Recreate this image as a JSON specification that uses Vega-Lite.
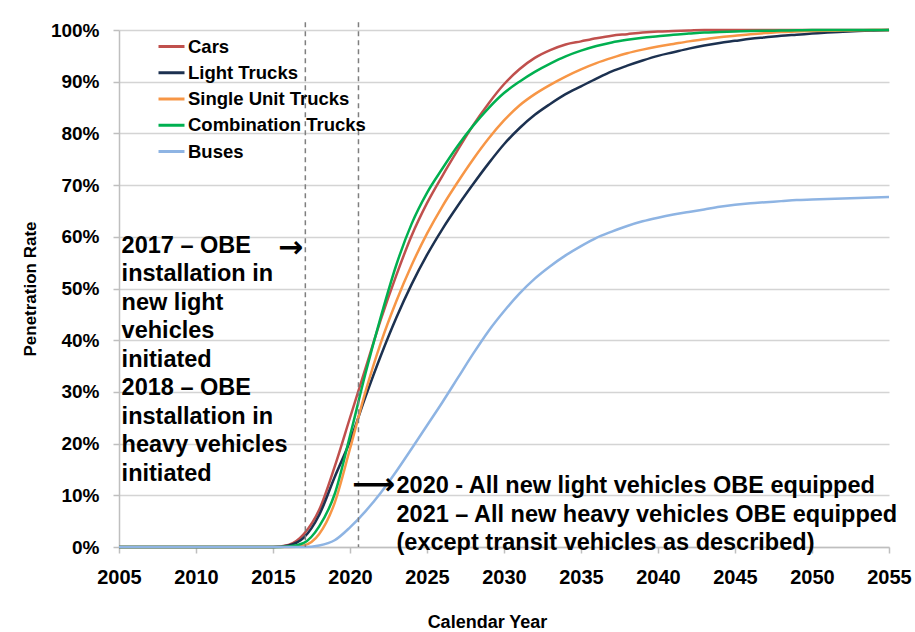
{
  "$schema": "https://vega.github.io/schema/vega-lite/v6.json",
  "width": 770,
  "height": 517,
  "autosize": "none",
  "padding": {"left": 119, "top": 30, "right": 26, "bottom": 85},
  "background": "white",
  "config": {"view": {"stroke": null}, "font": "Liberation Sans"},
  "datasets": {
    "series": [
      {"year": 2005, "Cars": 0, "Light Trucks": 0, "Single Unit Trucks": 0, "Combination Trucks": 0, "Buses": 0},
      {"year": 2006, "Cars": 0, "Light Trucks": 0, "Single Unit Trucks": 0, "Combination Trucks": 0, "Buses": 0},
      {"year": 2007, "Cars": 0, "Light Trucks": 0, "Single Unit Trucks": 0, "Combination Trucks": 0, "Buses": 0},
      {"year": 2008, "Cars": 0, "Light Trucks": 0, "Single Unit Trucks": 0, "Combination Trucks": 0, "Buses": 0},
      {"year": 2009, "Cars": 0, "Light Trucks": 0, "Single Unit Trucks": 0, "Combination Trucks": 0, "Buses": 0},
      {"year": 2010, "Cars": 0, "Light Trucks": 0, "Single Unit Trucks": 0, "Combination Trucks": 0, "Buses": 0},
      {"year": 2011, "Cars": 0, "Light Trucks": 0, "Single Unit Trucks": 0, "Combination Trucks": 0, "Buses": 0},
      {"year": 2012, "Cars": 0, "Light Trucks": 0, "Single Unit Trucks": 0, "Combination Trucks": 0, "Buses": 0},
      {"year": 2013, "Cars": 0, "Light Trucks": 0, "Single Unit Trucks": 0, "Combination Trucks": 0, "Buses": 0},
      {"year": 2014, "Cars": 0, "Light Trucks": 0, "Single Unit Trucks": 0, "Combination Trucks": 0, "Buses": 0},
      {"year": 2015, "Cars": 0, "Light Trucks": 0, "Single Unit Trucks": 0, "Combination Trucks": 0, "Buses": 0},
      {"year": 2016, "Cars": 0.4, "Light Trucks": 0.3, "Single Unit Trucks": 0, "Combination Trucks": 0.1, "Buses": 0},
      {"year": 2017, "Cars": 2.5, "Light Trucks": 1.8, "Single Unit Trucks": 0.3, "Combination Trucks": 0.8, "Buses": 0},
      {"year": 2018, "Cars": 7.2, "Light Trucks": 6.2, "Single Unit Trucks": 2.5, "Combination Trucks": 4.0, "Buses": 0.3},
      {"year": 2019, "Cars": 15.5, "Light Trucks": 13.5, "Single Unit Trucks": 8.5, "Combination Trucks": 10.2, "Buses": 1.3},
      {"year": 2020, "Cars": 25, "Light Trucks": 20.5, "Single Unit Trucks": 19, "Combination Trucks": 21.5, "Buses": 3.8},
      {"year": 2021, "Cars": 34.5, "Light Trucks": 29, "Single Unit Trucks": 30, "Combination Trucks": 33.5, "Buses": 6.9},
      {"year": 2022, "Cars": 44, "Light Trucks": 37, "Single Unit Trucks": 39.5, "Combination Trucks": 44.5, "Buses": 10.5},
      {"year": 2023, "Cars": 52.5, "Light Trucks": 44.3, "Single Unit Trucks": 47.5, "Combination Trucks": 54.5, "Buses": 14.6},
      {"year": 2024, "Cars": 60.2, "Light Trucks": 50.8, "Single Unit Trucks": 54.5, "Combination Trucks": 62.5, "Buses": 19},
      {"year": 2025, "Cars": 66.5, "Light Trucks": 56.5, "Single Unit Trucks": 60.6, "Combination Trucks": 68.5, "Buses": 23.5},
      {"year": 2026, "Cars": 71.8, "Light Trucks": 61.5, "Single Unit Trucks": 65.9, "Combination Trucks": 73.2, "Buses": 28},
      {"year": 2027, "Cars": 76.8, "Light Trucks": 66, "Single Unit Trucks": 70.6, "Combination Trucks": 77.6, "Buses": 32.7},
      {"year": 2028, "Cars": 81.6, "Light Trucks": 70.2, "Single Unit Trucks": 75, "Combination Trucks": 81.5, "Buses": 37.4},
      {"year": 2029, "Cars": 85.8, "Light Trucks": 74.2, "Single Unit Trucks": 79, "Combination Trucks": 84.9, "Buses": 41.8},
      {"year": 2030, "Cars": 89.5, "Light Trucks": 77.9, "Single Unit Trucks": 82.5, "Combination Trucks": 87.8, "Buses": 45.6},
      {"year": 2031, "Cars": 92.4, "Light Trucks": 81, "Single Unit Trucks": 85.4, "Combination Trucks": 90, "Buses": 49},
      {"year": 2032, "Cars": 94.6, "Light Trucks": 83.6, "Single Unit Trucks": 87.6, "Combination Trucks": 91.9, "Buses": 51.9},
      {"year": 2033, "Cars": 96.1, "Light Trucks": 85.7, "Single Unit Trucks": 89.4, "Combination Trucks": 93.5, "Buses": 54.3},
      {"year": 2034, "Cars": 97.2, "Light Trucks": 87.6, "Single Unit Trucks": 91, "Combination Trucks": 94.9, "Buses": 56.4},
      {"year": 2035, "Cars": 97.8, "Light Trucks": 89.1, "Single Unit Trucks": 92.4, "Combination Trucks": 96, "Buses": 58.2},
      {"year": 2036, "Cars": 98.4, "Light Trucks": 90.6, "Single Unit Trucks": 93.6, "Combination Trucks": 96.9, "Buses": 59.8},
      {"year": 2037, "Cars": 98.9, "Light Trucks": 92, "Single Unit Trucks": 94.6, "Combination Trucks": 97.6, "Buses": 61},
      {"year": 2038, "Cars": 99.2, "Light Trucks": 93.1, "Single Unit Trucks": 95.5, "Combination Trucks": 98.1, "Buses": 62.1},
      {"year": 2039, "Cars": 99.5, "Light Trucks": 94.1, "Single Unit Trucks": 96.2, "Combination Trucks": 98.5, "Buses": 63},
      {"year": 2040, "Cars": 99.7, "Light Trucks": 95, "Single Unit Trucks": 96.8, "Combination Trucks": 98.8, "Buses": 63.7},
      {"year": 2041, "Cars": 99.8, "Light Trucks": 95.7, "Single Unit Trucks": 97.3, "Combination Trucks": 99.1, "Buses": 64.3},
      {"year": 2042, "Cars": 99.9, "Light Trucks": 96.4, "Single Unit Trucks": 97.8, "Combination Trucks": 99.3, "Buses": 64.8},
      {"year": 2043, "Cars": 100, "Light Trucks": 97, "Single Unit Trucks": 98.2, "Combination Trucks": 99.5, "Buses": 65.3},
      {"year": 2044, "Cars": 100, "Light Trucks": 97.5, "Single Unit Trucks": 98.6, "Combination Trucks": 99.6, "Buses": 65.8},
      {"year": 2045, "Cars": 100, "Light Trucks": 97.9, "Single Unit Trucks": 98.9, "Combination Trucks": 99.7, "Buses": 66.2},
      {"year": 2046, "Cars": 100, "Light Trucks": 98.3, "Single Unit Trucks": 99.2, "Combination Trucks": 99.8, "Buses": 66.5},
      {"year": 2047, "Cars": 100, "Light Trucks": 98.6, "Single Unit Trucks": 99.4, "Combination Trucks": 99.85, "Buses": 66.7},
      {"year": 2048, "Cars": 100, "Light Trucks": 98.9, "Single Unit Trucks": 99.6, "Combination Trucks": 99.9, "Buses": 66.9},
      {"year": 2049, "Cars": 100, "Light Trucks": 99.1, "Single Unit Trucks": 99.7, "Combination Trucks": 99.95, "Buses": 67.1},
      {"year": 2050, "Cars": 100, "Light Trucks": 99.3, "Single Unit Trucks": 99.8, "Combination Trucks": 100, "Buses": 67.2},
      {"year": 2051, "Cars": 100, "Light Trucks": 99.5, "Single Unit Trucks": 99.85, "Combination Trucks": 100, "Buses": 67.3},
      {"year": 2052, "Cars": 100, "Light Trucks": 99.65, "Single Unit Trucks": 99.9, "Combination Trucks": 100, "Buses": 67.4},
      {"year": 2053, "Cars": 100, "Light Trucks": 99.8, "Single Unit Trucks": 99.95, "Combination Trucks": 100, "Buses": 67.5},
      {"year": 2054, "Cars": 100, "Light Trucks": 99.9, "Single Unit Trucks": 100, "Combination Trucks": 100, "Buses": 67.6},
      {"year": 2055, "Cars": 100, "Light Trucks": 100, "Single Unit Trucks": 100, "Combination Trucks": 100, "Buses": 67.7}
    ]
  },
  "layer": [
    {
      "data": {"name": "series"},
      "transform": [
        {"fold": ["Cars", "Light Trucks", "Single Unit Trucks", "Combination Trucks", "Buses"], "as": ["type", "rate"]}
      ],
      "mark": {"type": "line", "interpolate": "monotone", "strokeWidth": 2.5},
      "encoding": {
        "x": {
          "field": "year",
          "type": "quantitative",
          "scale": {"domain": [2005, 2055], "nice": false, "zero": false},
          "axis": {
            "values": [2005, 2010, 2015, 2020, 2025, 2030, 2035, 2040, 2045, 2050, 2055],
            "format": "d",
            "grid": false,
            "labelFlush": false,
            "domainColor": "#BFBFBF",
            "domainWidth": 1.5,
            "tickColor": "#BFBFBF",
            "tickWidth": 1.5,
            "tickSize": 6,
            "labelFont": "Liberation Sans",
            "labelFontWeight": "bold",
            "labelFontSize": 20,
            "labelColor": "#000000",
            "labelPadding": 14,
            "title": "Calendar Year",
            "titleFont": "Liberation Sans",
            "titleFontWeight": "bold",
            "titleFontSize": 18,
            "titleColor": "#000000",
            "titlePadding": 26,
            "titleX": 368
          }
        },
        "y": {
          "field": "rate",
          "type": "quantitative",
          "scale": {"domain": [0, 100], "nice": false},
          "axis": {
            "values": [0, 10, 20, 30, 40, 50, 60, 70, 80, 90, 100],
            "labelExpr": "datum.value + '%'",
            "grid": true,
            "labelFlush": false,
            "gridColor": "#D4D4D4",
            "gridWidth": 1.5,
            "domainColor": "#BFBFBF",
            "domainWidth": 1.5,
            "tickColor": "#BFBFBF",
            "tickWidth": 1.5,
            "tickSize": 6,
            "labelFont": "Liberation Sans",
            "labelFontWeight": "bold",
            "labelFontSize": 19,
            "labelColor": "#000000",
            "labelPadding": 14,
            "title": "Penetration Rate",
            "titleFont": "Liberation Sans",
            "titleFontWeight": "bold",
            "titleFontSize": 17,
            "titleColor": "#000000",
            "titlePadding": 11
          }
        },
        "color": {
          "field": "type",
          "type": "nominal",
          "sort": ["Cars", "Light Trucks", "Single Unit Trucks", "Combination Trucks", "Buses"],
          "scale": {
            "domain": ["Cars", "Light Trucks", "Single Unit Trucks", "Combination Trucks", "Buses"],
            "range": ["#C0504D", "#1C3150", "#F79646", "#00B050", "#8EB4E3"]
          },
          "legend": {
            "orient": "none",
            "legendX": 38,
            "legendY": 2,
            "title": null,
            "symbolType": "stroke",
            "symbolSize": 676,
            "symbolStrokeWidth": 3,
            "labelFont": "Liberation Sans",
            "labelFontWeight": "bold",
            "labelFontSize": 18.5,
            "labelColor": "#000000",
            "labelLimit": 400,
            "labelOffset": 2,
            "rowPadding": 2.25,
            "padding": 0
          }
        }
      }
    },
    {
      "data": {"values": [{"year": 2017.1, "top": 101.5, "bottom": 0}, {"year": 2020.55, "top": 101.5, "bottom": 0}]},
      "mark": {"type": "rule", "strokeDash": [5, 4], "stroke": "#7F7F7F", "strokeWidth": 1.5},
      "encoding": {
        "x": {"field": "year", "type": "quantitative"},
        "y": {"field": "top", "type": "quantitative"},
        "y2": {"field": "bottom"}
      }
    },
    {
      "data": {"values": [
        {"year": 2005.17, "rate": 56.9, "label": ["2017 – OBE", "installation in", "new light", "vehicles", "initiated", "2018 – OBE", "installation in", "heavy vehicles", "initiated"]}
      ]},
      "mark": {"type": "text", "align": "left", "baseline": "alphabetic", "font": "Liberation Sans", "fontWeight": "bold", "fontSize": 23.5, "lineHeight": 28.5, "color": "#000000"},
      "encoding": {
        "x": {"field": "year", "type": "quantitative"},
        "y": {"field": "rate", "type": "quantitative"},
        "text": {"field": "label", "type": "nominal"}
      }
    },
    {
      "data": {"values": [
        {"year": 2023.02, "rate": 10.44, "label": ["2020 - All  new light vehicles OBE equipped", "2021 – All  new heavy vehicles OBE equipped", "(except transit vehicles as described)"]}
      ]},
      "mark": {"type": "text", "align": "left", "baseline": "alphabetic", "font": "Liberation Sans", "fontWeight": "bold", "fontSize": 23.5, "lineHeight": 28.7, "color": "#000000"},
      "encoding": {
        "x": {"field": "year", "type": "quantitative"},
        "y": {"field": "rate", "type": "quantitative"},
        "text": {"field": "label", "type": "nominal"}
      }
    },
    {
      "data": {"values": [
        {"year": 2016.14, "rate": 57.8, "arrow": "→"},
        {"year": 2021.53, "rate": 12.0, "arrow": "⟶"}
      ]},
      "mark": {"type": "text", "align": "center", "baseline": "middle", "font": "DejaVu Sans", "fontWeight": "bold", "fontSize": 30, "color": "#000000"},
      "encoding": {
        "x": {"field": "year", "type": "quantitative"},
        "y": {"field": "rate", "type": "quantitative"},
        "text": {"field": "arrow", "type": "nominal"}
      }
    }
  ]
}
